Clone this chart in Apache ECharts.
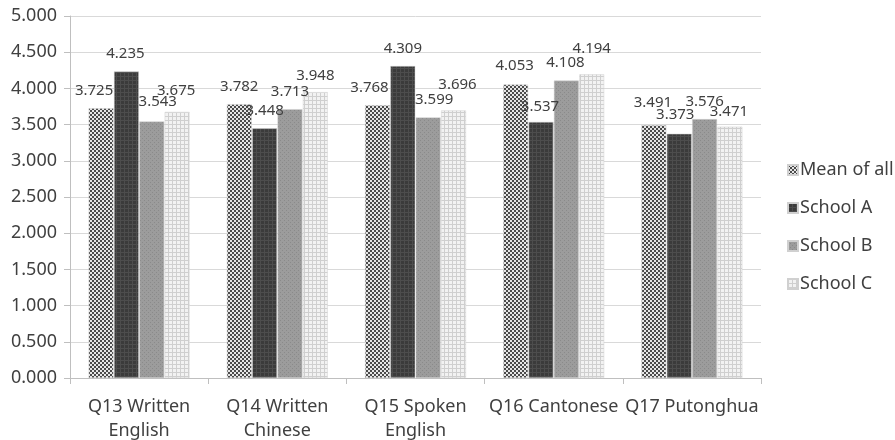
<!DOCTYPE html>
<html>
<head>
<meta charset="utf-8">
<script src="https://cdn.jsdelivr.net/npm/echarts@6/dist/echarts.min.js"></script>
<style>
  html, body { margin: 0; padding: 0; background: #fff; }
  #chart { width: 895px; height: 440px; }
</style>
</head>
<body>
<div id="chart"></div>
<script>
// Survey items and mean scores per school
const categories = ['Q13 Written\nEnglish', 'Q14 Written\nChinese', 'Q15 Spoken\nEnglish', 'Q16 Cantonese', 'Q17 Putonghua'];
const seriesNames = ['Mean of all', 'School A', 'School B', 'School C'];
const meanOfAll = [3.725, 3.782, 3.768, 4.053, 3.491];
const schoolA   = [4.235, 3.448, 4.309, 3.537, 3.373];
const schoolB   = [3.543, 3.713, 3.599, 4.108, 3.576];
const schoolC   = [3.675, 3.948, 3.696, 4.194, 3.471];
const yTicks = { min: 0, max: 5, interval: 0.5 };

// Value labels are nudged [dx, dy] in pixels so neighbouring labels do not collide
const labelNudge = [
  [[-7, 0], [0, 0], [-8, 0], [-1, -1], [-1, -5]],
  [[-1, 0], [0, 0], [0, 0], [-1, 2], [-4, -2]],
  [[6, -2], [0, 0], [6, 0], [-1, 0], [0, 0]],
  [[-1, -4], [0, 1], [4, -8], [0, -8], [-1, 3]]
];

// Small tiled fills used for the bars
function makePattern(size, draw) {
  const c = document.createElement('canvas');
  c.width = size; c.height = size;
  draw(c.getContext('2d'), size);
  return { image: c, repeat: 'repeat' };
}
const fills = [
  // checkerboard
  makePattern(4, (g) => {
    g.fillStyle = '#e6e6e6'; g.fillRect(0, 0, 4, 4);
    g.fillStyle = '#4a4a4a'; g.fillRect(0, 0, 2, 2); g.fillRect(2, 2, 2, 2);
  }),
  // dark with faint grid
  makePattern(4, (g) => {
    g.fillStyle = '#3b3b3b'; g.fillRect(0, 0, 4, 4);
    g.fillStyle = '#4d4d4d'; g.fillRect(0, 0, 4, 1); g.fillRect(0, 0, 1, 4);
  }),
  // medium grey speckle
  makePattern(4, (g) => {
    g.fillStyle = '#9c9c9c'; g.fillRect(0, 0, 4, 4);
    g.fillStyle = '#8a8a8a'; g.fillRect(0, 0, 1, 1); g.fillRect(2, 2, 1, 1);
  }),
  // light grid
  makePattern(4, (g) => {
    g.fillStyle = '#f2f2f2'; g.fillRect(0, 0, 4, 4);
    g.fillStyle = '#cfcfcf'; g.fillRect(0, 0, 4, 1); g.fillRect(0, 0, 1, 4);
  })
];

const seriesData = [meanOfAll, schoolA, schoolB, schoolC];
const textColor = '#404040';
const font = 'Noto Sans';

const chart = echarts.init(document.getElementById('chart'), null, { renderer: 'canvas' });
chart.setOption({
  animation: false,
  textStyle: { fontFamily: font },
  grid: { left: 70, right: 134, top: 16, bottom: 62, containLabel: false, outerBoundsMode: 'none' },
  legend: {
    orient: 'vertical',
    left: 782,
    top: 156,
    itemWidth: 10,
    itemHeight: 10,
    itemGap: 20,
    icon: 'rect',
    data: seriesNames,
    textStyle: { fontFamily: font, fontSize: 18, color: textColor, padding: [0, 0, 0, -3] }
  },
  xAxis: {
    type: 'category',
    data: categories,
    axisLine: { lineStyle: { color: '#bfbfbf', width: 1 } },
    axisTick: { show: true, length: 6, lineStyle: { color: '#bfbfbf' } },
    axisLabel: { fontFamily: font, fontSize: 18, color: textColor, lineHeight: 24, margin: 17, interval: 0 }
  },
  yAxis: {
    type: 'value',
    min: yTicks.min, max: yTicks.max, interval: yTicks.interval,
    axisLine: { show: true, lineStyle: { color: '#bfbfbf' } },
    axisTick: { show: true, length: 6, lineStyle: { color: '#bfbfbf' } },
    splitLine: { lineStyle: { color: '#d9d9d9', width: 1 } },
    axisLabel: { fontFamily: font, fontSize: 18, color: textColor, margin: 13, formatter: (v) => v.toFixed(3) }
  },
  series: seriesData.map((vals, i) => ({
    name: seriesNames[i],
    type: 'bar',
    data: vals.map((v, j) => ({ value: v, label: { offset: labelNudge[i][j] } })),
    barGap: '2%',
    barCategoryGap: '27%',
    itemStyle: { color: fills[i], borderColor: '#d0d0d0', borderWidth: 0.5 },
    label: {
      show: true,
      position: 'top',
      distance: 10,
      fontFamily: font,
      fontSize: 15,
      color: textColor,
      formatter: (p) => p.value.toFixed(3)
    }
  }))
});
</script>
</body>
</html>
